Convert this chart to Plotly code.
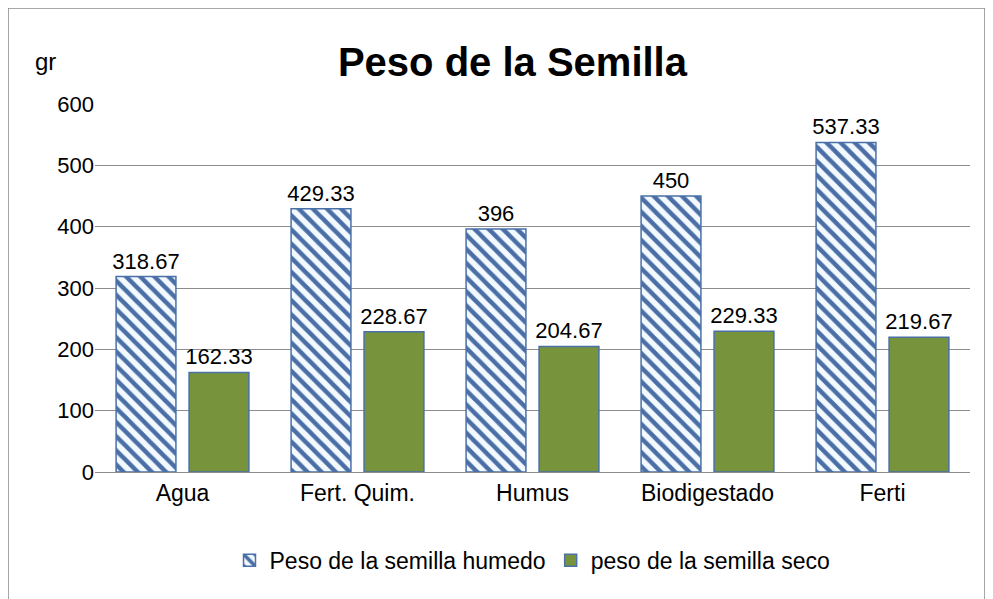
import plotly.graph_objects as go

# Datos del grafico
categorias = ['Agua', 'Fert. Quim.', 'Humus', 'Biodigestado', 'Ferti']
humedo = [318.67, 429.33, 396, 450, 537.33]
seco = [162.33, 228.67, 204.67, 229.33, 219.67]
etiquetas_humedo = ['318.67', '429.33', '396', '450', '537.33']
etiquetas_seco = ['162.33', '228.67', '204.67', '229.33', '219.67']

fuente = 'Liberation Sans, Arial, sans-serif'

fig = go.Figure()
fig.add_trace(go.Bar(
    x=categorias, y=humedo, name='Peso de la semilla humedo',
    text=etiquetas_humedo, textposition='outside',
    cliponaxis=False, constraintext='none',
    textfont=dict(size=22, color='black'),
    marker=dict(color='white',
                line=dict(color='#4a70a8', width=1.5),
                pattern=dict(shape='\\', fgcolor='#4a6ea5', fgopacity=1,
                             bgcolor='#f2faff', size=10, solidity=0.45))
))
fig.add_trace(go.Bar(
    x=categorias, y=seco, name='peso de la semilla seco',
    text=etiquetas_seco, textposition='outside',
    cliponaxis=False, constraintext='none',
    textfont=dict(size=22, color='black'),
    marker=dict(color='#77933c', line=dict(color='#4a70a8', width=1.5))
))

fig.update_layout(
    width=993, height=599,
    margin=dict(l=87, r=31, t=96, b=135, autoexpand=False),
    paper_bgcolor='white', plot_bgcolor='white',
    font=dict(family=fuente, size=21, color='black'),
    title=dict(text='<b>Peso de la Semilla</b>', x=0.508, xanchor='center',
               y=0.91, yanchor='middle', font=dict(size=40, family=fuente)),
    barmode='group', bargap=0.166, bargroupgap=0.18,
    legend=dict(orientation='h', x=0.5, xanchor='center', y=-0.24, yanchor='middle',
                font=dict(size=23), traceorder='normal', itemwidth=30),
    showlegend=True,
)
fig.update_yaxes(range=[0, 600], dtick=100, showgrid=True, gridcolor='#8c8c8c',
                 gridwidth=1, zeroline=False, showline=False,
                 tickfont=dict(size=22), ticks='', ticklen=0)
fig.update_xaxes(showline=True, linecolor='#8c8c8c', linewidth=1,
                 tickfont=dict(size=23), ticks='')

# borde exterior y etiqueta del eje
fig.add_shape(type='rect', xref='paper', yref='paper',
              x0=-0.0994, x1=1.0171, y0=-0.37, y1=1.2609,
              line=dict(color='#8c8c8c', width=1.5), layer='below')
fig.add_annotation(text='gr', xref='paper', yref='paper', x=-0.057, y=1.115,
                   xanchor='center', yanchor='middle',
                   showarrow=False, font=dict(size=24))

fig.write_html("out.html")
